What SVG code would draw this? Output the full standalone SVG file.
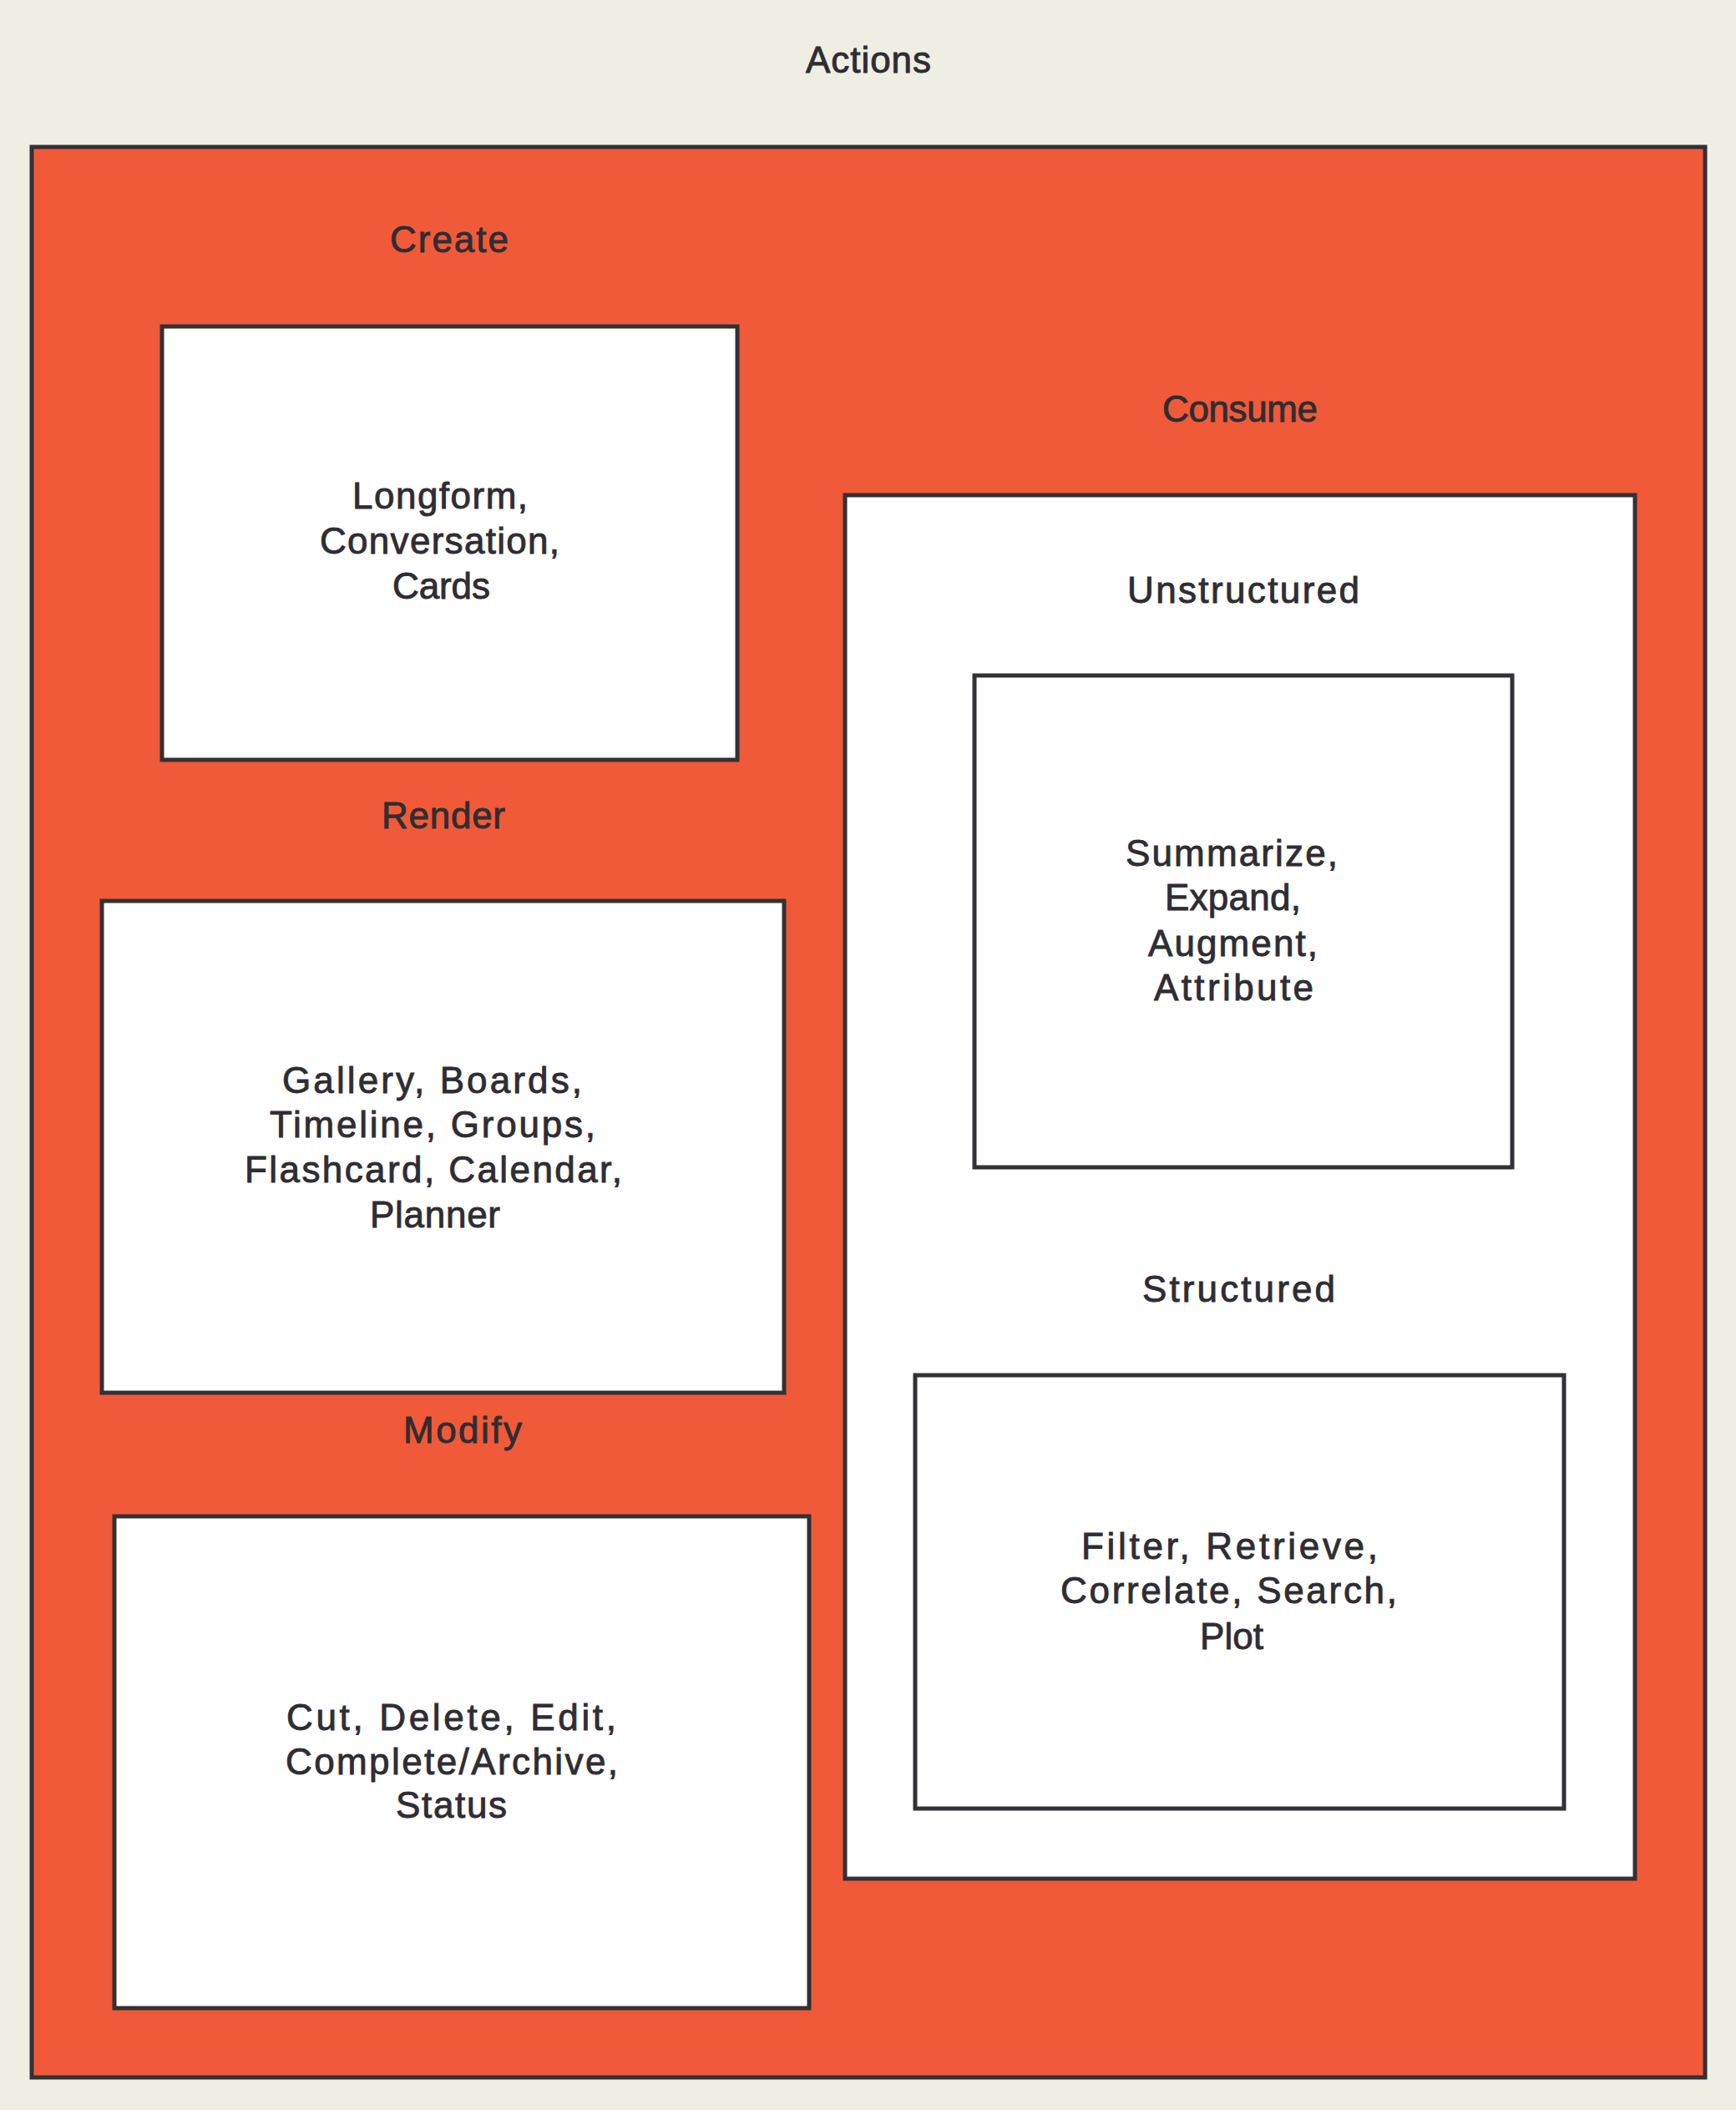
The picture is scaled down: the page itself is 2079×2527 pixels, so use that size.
<svg xmlns="http://www.w3.org/2000/svg" width="2079" height="2527" viewBox="0 0 2079 2527">
<style>
.bg{fill:#eeefe2}
.outer{fill:#f05a38;stroke:#333036;stroke-width:5}
.box{fill:#ffffff;stroke:#333036;stroke-width:5}
text{font-family:"Liberation Sans",Arial,sans-serif;font-size:44px;fill:#2f2d33;stroke:#2f2d33;stroke-width:0.9px}
</style>
<rect class="bg" x="0" y="0" width="2079" height="2527"/>
<text id="title-actions" x="965" y="87" textLength="150" lengthAdjust="spacing">Actions</text>
<g id="actions">
<rect class="outer" x="38" y="176" width="2004" height="2312"/>
</g>
<g id="create">
<text x="467" y="302" textLength="142" lengthAdjust="spacing">Create</text>
<rect class="box" x="194" y="391" width="689" height="519"/>
<text x="422" y="609" textLength="210" lengthAdjust="spacing">Longform,</text>
<text x="383" y="663" textLength="287" lengthAdjust="spacing">Conversation,</text>
<text x="470" y="717" textLength="117" lengthAdjust="spacing">Cards</text>
</g>
<g id="render">
<text x="457" y="992" textLength="148" lengthAdjust="spacing">Render</text>
<rect class="box" x="122" y="1079" width="817" height="589"/>
<text x="338" y="1309" textLength="359" lengthAdjust="spacing">Gallery, Boards,</text>
<text x="323" y="1362" textLength="390" lengthAdjust="spacing">Timeline, Groups,</text>
<text x="293" y="1416" textLength="452" lengthAdjust="spacing">Flashcard, Calendar,</text>
<text x="443" y="1470" textLength="156" lengthAdjust="spacing">Planner</text>
</g>
<g id="modify">
<text x="483" y="1728" textLength="142" lengthAdjust="spacing">Modify</text>
<rect class="box" x="137" y="1816" width="832" height="589"/>
<text x="343" y="2072" textLength="395" lengthAdjust="spacing">Cut, Delete, Edit,</text>
<text x="342" y="2125" textLength="398" lengthAdjust="spacing">Complete/Archive,</text>
<text x="474" y="2177" textLength="133" lengthAdjust="spacing">Status</text>
</g>
<g id="consume">
<text x="1392" y="505" textLength="186" lengthAdjust="spacing">Consume</text>
<rect class="box" x="1012" y="593" width="946" height="1657"/>
</g>
<g id="unstructured">
<text x="1350" y="722" textLength="278" lengthAdjust="spacing">Unstructured</text>
<rect class="box" x="1167" y="809" width="644" height="589"/>
<text x="1348" y="1037" textLength="254" lengthAdjust="spacing">Summarize,</text>
<text x="1395" y="1090" textLength="163" lengthAdjust="spacing">Expand,</text>
<text x="1375" y="1145" textLength="203" lengthAdjust="spacing">Augment,</text>
<text x="1382" y="1198" textLength="191" lengthAdjust="spacing">Attribute</text>
</g>
<g id="structured">
<text x="1368" y="1559" textLength="231" lengthAdjust="spacing">Structured</text>
<rect class="box" x="1096" y="1647" width="777" height="519"/>
<text x="1295" y="1867" textLength="355" lengthAdjust="spacing">Filter, Retrieve,</text>
<text x="1270" y="1920" textLength="403" lengthAdjust="spacing">Correlate, Search,</text>
<text x="1437" y="1975" textLength="76" lengthAdjust="spacing">Plot</text>
</g>
<g id="connectors"></g>
</svg>
